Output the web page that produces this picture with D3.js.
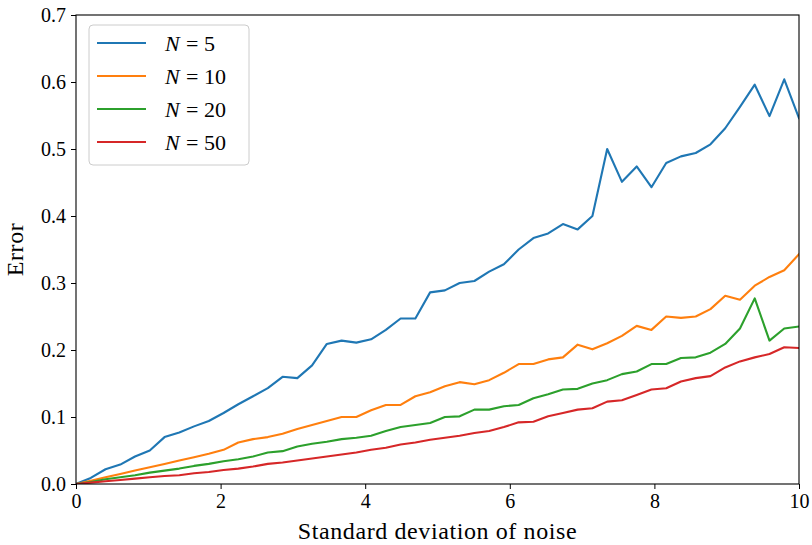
<!DOCTYPE html>
<html>
<head>
<meta charset="utf-8">
<script src="https://cdnjs.cloudflare.com/ajax/libs/d3/7.8.5/d3.min.js"></script>
<style>
  body { margin: 0; background: #fff; }
  text { font-family: "Liberation Serif", "DejaVu Serif", serif; fill: #000; }
</style>
</head>
<body>
<div id="graph"></div>
<script>
// noise levels: 50 evenly spaced points from 0 to 10
var noiseCount = 50;
var noise = d3.range(noiseCount).map(function(i) { return i * 10 / (noiseCount - 1); });

// error per noise level, one array per N
var errN5 = [0, 0.009, 0.022, 0.029, 0.041, 0.050, 0.070, 0.077, 0.086, 0.094,
  0.106, 0.119, 0.131, 0.143, 0.160, 0.158, 0.177, 0.209, 0.214, 0.211,
  0.216, 0.230, 0.247, 0.247, 0.286, 0.289, 0.300, 0.303, 0.317, 0.328,
  0.350, 0.367, 0.374, 0.388, 0.380, 0.400, 0.500, 0.451, 0.474, 0.443,
  0.479, 0.489, 0.494, 0.507, 0.531, 0.563, 0.596, 0.549, 0.604, 0.546];
var errN10 = [0, 0.005, 0.010, 0.015, 0.020, 0.025, 0.030, 0.035, 0.040, 0.045,
  0.051, 0.062, 0.067, 0.070, 0.075, 0.082, 0.088, 0.094, 0.100, 0.100,
  0.110, 0.118, 0.118, 0.131, 0.137, 0.146, 0.152, 0.149, 0.155, 0.166,
  0.179, 0.179, 0.186, 0.189, 0.208, 0.201, 0.210, 0.221, 0.236, 0.230,
  0.250, 0.248, 0.250, 0.261, 0.281, 0.275, 0.296, 0.309, 0.319, 0.343];
var errN20 = [0, 0.003, 0.007, 0.010, 0.013, 0.017, 0.020, 0.023, 0.027, 0.030,
  0.034, 0.037, 0.041, 0.047, 0.049, 0.056, 0.060, 0.063, 0.067, 0.069,
  0.072, 0.079, 0.085, 0.088, 0.091, 0.100, 0.101, 0.111, 0.111, 0.116,
  0.118, 0.128, 0.134, 0.141, 0.142, 0.150, 0.155, 0.164, 0.168, 0.179,
  0.179, 0.188, 0.189, 0.196, 0.209, 0.232, 0.277, 0.214, 0.232, 0.235];
var errN50 = [0, 0.002, 0.004, 0.006, 0.008, 0.010, 0.012, 0.013, 0.016, 0.018,
  0.021, 0.023, 0.026, 0.030, 0.032, 0.035, 0.038, 0.041, 0.044, 0.047,
  0.051, 0.054, 0.059, 0.062, 0.066, 0.069, 0.072, 0.076, 0.079, 0.085,
  0.092, 0.093, 0.101, 0.106, 0.111, 0.113, 0.123, 0.125, 0.133, 0.141,
  0.143, 0.153, 0.158, 0.161, 0.174, 0.183, 0.189, 0.194, 0.204, 0.203];

var seriesN = ["5", "10", "20", "50"];
var seriesErr = [errN5, errN10, errN20, errN50];
var colors = ["#1f77b4", "#ff7f0e", "#2ca02c", "#d62728"];

var xTicks = [0, 2, 4, 6, 8, 10];
var yTicks = [0, 0.1, 0.2, 0.3, 0.4, 0.5, 0.6, 0.7];

// set the dimensions and margins of the graph
var margin = {top: 15, right: 13, bottom: 61, left: 76},
    width = 812 - margin.left - margin.right,
    height = 545 - margin.top - margin.bottom;

var x = d3.scaleLinear().domain([0, 10]).range([0, width]);
var y = d3.scaleLinear().domain([0, 0.7]).range([height, 0]);

var svg = d3.select("#graph").append("svg")
    .attr("width", 812)
    .attr("height", 545)
  .append("g")
    .attr("transform", "translate(" + margin.left + "," + margin.top + ")");

// clip lines to the axes box
svg.append("clipPath").attr("id", "clip")
  .append("rect").attr("width", width).attr("height", height);

var valueline = d3.line()
    .x(function(d, i) { return x(noise[i]); })
    .y(function(d) { return y(d); });

svg.append("g").attr("clip-path", "url(#clip)")
  .selectAll("path")
  .data(seriesErr)
  .enter().append("path")
    .attr("fill", "none")
    .attr("stroke", function(d, i) { return colors[i]; })
    .attr("stroke-width", 2.1)
    .attr("stroke-linejoin", "round")
    .attr("stroke-linecap", "square")
    .attr("d", valueline);

// axes
var xAxis = svg.append("g")
    .attr("transform", "translate(0," + height + ")")
    .call(d3.axisBottom(x).tickValues(xTicks).tickSizeOuter(0).tickSize(5).tickPadding(5)
      .tickFormat(d3.format("d")));
var yAxis = svg.append("g")
    .call(d3.axisLeft(y).tickValues(yTicks).tickSizeOuter(0).tickSize(5).tickPadding(5)
      .tickFormat(d3.format(".1f")));
[xAxis, yAxis].forEach(function(a) {
  a.select(".domain").remove();
  a.selectAll("line").attr("stroke", "#000").attr("stroke-width", 1);
  a.selectAll("text").style("font-size", "20px").attr("fill", "#000");
});

// frame around the plot
svg.append("rect")
    .attr("width", width)
    .attr("height", height)
    .attr("fill", "none")
    .attr("stroke", "#000")
    .attr("stroke-width", 1.1);

// axis labels
svg.append("text")
    .attr("x", width / 2)
    .attr("y", height + 55)
    .attr("text-anchor", "middle")
    .style("font-size", "24px")
    .style("letter-spacing", "0.6px")
    .text("Standard deviation of noise");
svg.append("text")
    .attr("transform", "translate(" + (-53) + "," + (height / 2) + ") rotate(-90)")
    .attr("text-anchor", "middle")
    .style("font-size", "24px")
    .style("letter-spacing", "0.6px")
    .text("Error");

// legend
var legend = svg.append("g").attr("transform", "translate(13,10)");
legend.append("rect")
    .attr("width", 160)
    .attr("height", 140)
    .attr("rx", 4)
    .attr("fill", "#fff")
    .attr("fill-opacity", 0.8)
    .attr("stroke", "#cccccc")
    .attr("stroke-width", 1);

var item = legend.selectAll(".item")
    .data(seriesN)
  .enter().append("g")
    .attr("class", "item")
    .attr("transform", function(d, i) { return "translate(0," + (18 + i * 33) + ")"; });
item.append("line")
    .attr("x1", 8).attr("x2", 57)
    .attr("stroke", function(d, i) { return colors[i]; })
    .attr("stroke-width", 2.1);
var label = item.append("text")
    .attr("x", 76)
    .attr("dy", "0.35em")
    .style("font-size", "22px");
label.append("tspan").style("font-style", "italic").text("N");
label.append("tspan").attr("dx", 2).text(function(d) { return "= " + d; })
    .attr("xml:space", "preserve");
label.selectAll("tspan:last-child").text(function(d) { return "\u2009= " + d; });
</script>
</body>
</html>
